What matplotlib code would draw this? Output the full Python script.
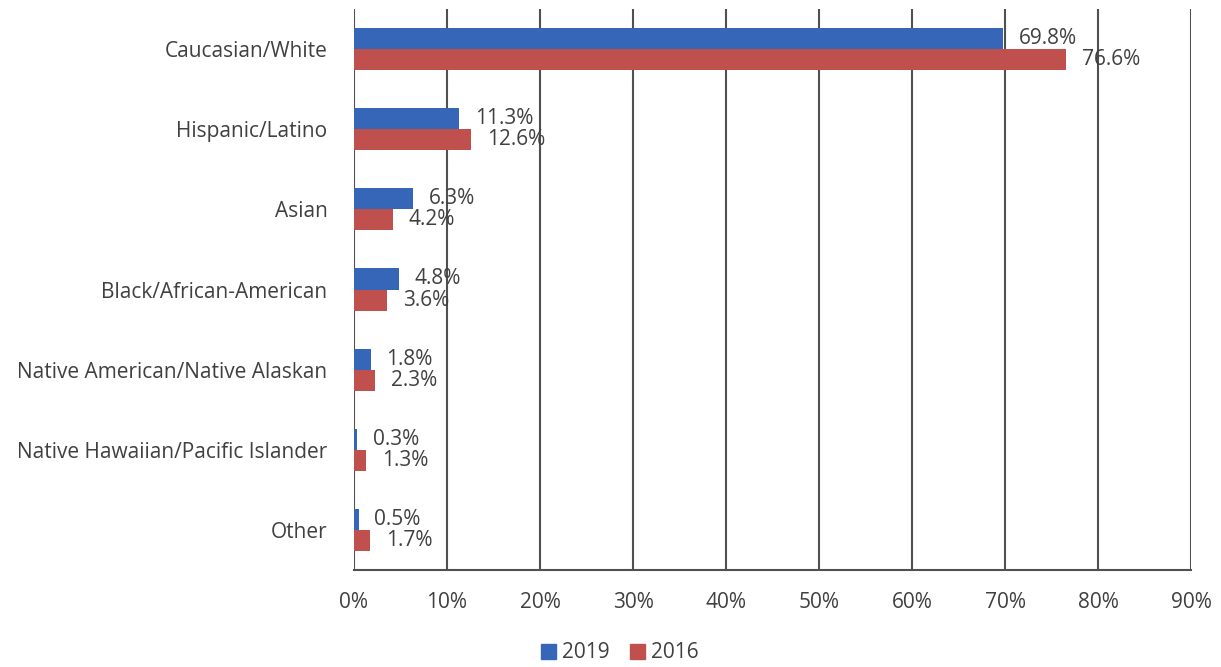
import numpy as np
import matplotlib.pyplot as plt
from matplotlib.patches import Patch

categories = ['Caucasian/White', 'Hispanic/Latino', 'Asian', 'Black/African-American',
              'Native American/Native Alaskan', 'Native Hawaiian/Pacific Islander', 'Other']
vals_2019 = [69.8, 11.3, 6.3, 4.8, 1.8, 0.3, 0.5]
vals_2016 = [76.6, 12.6, 4.2, 3.6, 2.3, 1.3, 1.7]
xticks = [0, 10, 20, 30, 40, 50, 60, 70, 80, 90]

blue = '#3566B8'
red = '#C0504D'
txt = '#404040'
plt.rcParams['font.family'] = ['Open Sans', 'DejaVu Sans']
fs = 15

fig = plt.figure(figsize=(12.21, 6.67), dpi=100)
ax = fig.add_axes([354/1221, 1-570/667, (1191-354)/1221, (570-9)/667])

y = np.arange(len(categories))
h = 0.2625
ax.barh(y - h/2, vals_2019, height=h, color=blue, zorder=3)
ax.barh(y + h/2, vals_2016, height=h, color=red, zorder=3)

for yi, v in zip(y, vals_2019):
    ax.text(v + 1.7, yi - h/2, f'{v:.1f}%', va='center', ha='left', fontsize=fs, color=txt, zorder=4)
for yi, v in zip(y, vals_2016):
    ax.text(v + 1.7, yi + h/2, f'{v:.1f}%', va='center', ha='left', fontsize=fs, color=txt, zorder=4)

ax.set_ylim(len(categories) - 0.5, -0.5)
ax.set_xlim(0, 90)
ax.set_xticks(xticks)
ax.set_xticklabels([f'{t}%' for t in xticks], fontsize=fs, color=txt)
ax.set_yticks(y)
ax.set_yticklabels(categories, fontsize=fs, color=txt)
ax.tick_params(axis='both', length=0)
ax.tick_params(axis='x', pad=16)
ax.tick_params(axis='y', pad=19)
ax.grid(axis='x', color='#505050', linewidth=1.5, zorder=0)
for s in ['top', 'right', 'left']:
    ax.spines[s].set_visible(False)
ax.spines['bottom'].set_color('#505050')
ax.spines['bottom'].set_linewidth(1.5)

handles = [Patch(color=blue, label='2019'), Patch(color=red, label='2016')]
fig.legend(handles=handles, loc='center', bbox_to_anchor=(620/1221, 1-653/667), ncol=2,
           frameon=False, fontsize=fs, handlelength=0.7, handleheight=0.7,
           handletextpad=0.3, columnspacing=1.0, labelcolor=txt)

fig.savefig('out.png', dpi=100)
